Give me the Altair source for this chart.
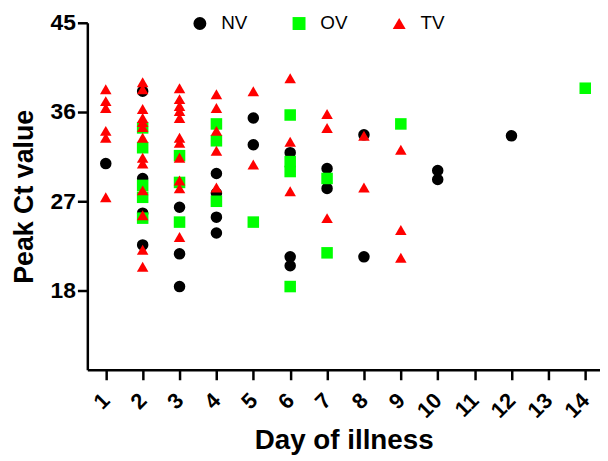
import altair as alt
import pandas as pd

# NV (black circles)
nv_day = [1, 2, 2, 2, 2, 3, 3, 3, 4, 4, 4, 4, 5, 5, 6, 6, 6, 7, 7, 8, 8, 10, 10, 12]
nv_ct = [30.8, 38.1, 29.3, 25.8, 22.6, 26.4, 21.7, 18.4, 29.8, 27.8, 25.4, 23.8,
         35.4, 32.7, 31.9, 21.4, 20.5, 30.3, 28.3, 33.7, 21.4, 30.1, 29.2, 33.6]

# OV (green squares)
ov_day = [2, 2, 2, 2, 2, 3, 3, 3, 4, 4, 4, 5, 6, 6, 6, 6, 7, 7, 9, 14]
ov_ct = [34.4, 32.4, 28.6, 27.4, 25.3, 31.6, 28.9, 24.9, 34.8, 33.1, 27.0, 24.9,
         35.7, 31.0, 30.0, 18.4, 29.3, 21.8, 34.8, 38.4]

# TV (red triangles)
tv_day = [1] * 6 + [2] * 13 + [3] * 11 + [4] * 5 + [5] * 2 + [6] * 3 + [7] * 3 + [8] * 2 + [9] * 3
tv_ct = [38.3, 37.1, 36.4, 34.1, 33.4, 27.4,
         39.0, 38.3, 36.3, 35.4, 35.0, 34.5, 33.4, 31.4, 30.8, 28.1, 25.6, 22.1, 20.4,
         38.4, 37.3, 36.6, 36.1, 35.4, 33.4, 32.9, 31.4, 29.1, 28.3, 23.4,
         37.8, 36.4, 34.1, 32.1, 28.4,
         38.1, 30.7,
         39.4, 33.0, 28.0,
         35.8, 34.4, 25.3,
         33.6, 28.4,
         32.2, 24.1, 21.3]

groups = ["NV", "OV", "TV"]
x_ticks = list(range(1, 15))
y_ticks = [18, 27, 36, 45]

rows = []
for g, days, cts in [("NV", nv_day, nv_ct), ("OV", ov_day, ov_ct), ("TV", tv_day, tv_ct)]:
    for d, c in zip(days, cts):
        rows.append({"group": g, "day": d, "ct": c})
df = pd.DataFrame(rows)

FONT = "Liberation Sans"

legend = alt.Legend(
    title=None,
    orient="none",
    direction="horizontal",
    legendX=104,
    legendY=-9,
    labelFont=FONT,
    labelFontSize=19,
    labelColor="#000000",
    symbolSize=170,
    symbolStrokeWidth=0,
    labelOffset=12,
    columnPadding=42,
)

chart = alt.Chart(df).mark_point(filled=True, size=135, opacity=1, strokeWidth=0).encode(
    x=alt.X("day:Q",
            scale=alt.Scale(domain=[0.5, 14.4], nice=False, zero=False),
            axis=alt.Axis(values=x_ticks, format="d", title="Day of illness",
                          labelAngle=315, labelAlign="right", labelBaseline="middle",
                          labelPadding=17, labelFontSize=22, titlePadding=5,
                          titleFontSize=28)),
    y=alt.Y("ct:Q",
            scale=alt.Scale(domain=[10, 45], nice=False, zero=False),
            axis=alt.Axis(values=y_ticks, title="Peak Ct value",
                          labelFontSize=23, labelPadding=2, titlePadding=12,
                          titleFontSize=27)),
    color=alt.Color("group:N", scale=alt.Scale(domain=groups, range=["#000000", "#00ff00", "#ff0000"]),
                    legend=legend),
    shape=alt.Shape("group:N", scale=alt.Scale(domain=groups, range=["circle", "square", "triangle-up"]),
                     legend=legend),
).properties(
    width=517,
    height=350,
    autosize=alt.AutoSizeParams(type="none"),
    padding={"left": 80, "top": 13, "right": 0, "bottom": 88},
).configure_view(
    strokeWidth=0
).configure_axis(
    grid=False,
    domainColor="#000000",
    domainWidth=2.5,
    tickColor="#000000",
    tickWidth=2.5,
    tickSize=10,
    labelColor="#000000",
    labelFont=FONT,
    labelFontWeight="bold",
    titleFont=FONT,
    titleFontWeight="bold",
    titleColor="#000000",
)

chart.save("out.html", embed_options={"renderer": "svg", "actions": False})
